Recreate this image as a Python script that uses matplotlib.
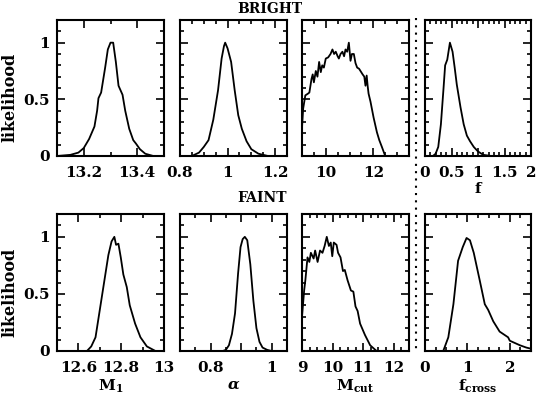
import matplotlib
matplotlib.use("Agg")
import matplotlib.pyplot as plt
from matplotlib.lines import Line2D
from matplotlib.ticker import MultipleLocator, FixedLocator

# ---- data (normalised likelihoods) ----
m1b_x = [13.10, 13.15, 13.18, 13.20, 13.22, 13.24, 13.25, 13.255, 13.265, 13.28, 13.29, 13.30,
         13.31, 13.32, 13.33, 13.345, 13.355, 13.37, 13.385, 13.395, 13.41, 13.43, 13.46, 13.50]
m1b_y = [0.0, 0.01, 0.03, 0.07, 0.15, 0.26, 0.40, 0.51, 0.56, 0.78, 0.94, 1.0,
         1.0, 0.83, 0.62, 0.54, 0.40, 0.24, 0.14, 0.11, 0.06, 0.02, 0.0, 0.0]

alpha_b_x = [0.80, 0.85, 0.88, 0.90, 0.92, 0.94, 0.96, 0.975, 0.985, 0.99, 1.00, 1.015, 1.03,
             1.045, 1.06, 1.08, 1.10, 1.13, 1.17, 1.25]
alpha_b_y = [0.0, 0.0, 0.03, 0.08, 0.14, 0.32, 0.58, 0.86, 0.97, 1.0, 0.95, 0.83, 0.58,
             0.36, 0.24, 0.13, 0.06, 0.02, 0.0, 0.0]

mcut_b_x = [9.0, 9.05, 9.14, 9.25, 9.31, 9.4, 9.45, 9.5, 9.58, 9.65, 9.72, 9.79, 9.85, 9.92,
            10.0, 10.1, 10.2, 10.28, 10.35, 10.42, 10.5, 10.55, 10.62, 10.7, 10.77, 10.83,
            10.9, 10.97, 11.04, 11.1, 11.18, 11.25, 11.32, 11.4, 11.46, 11.55, 11.62, 11.67,
            11.72, 11.76, 11.8, 11.88, 12.01, 12.15, 12.25, 12.36, 12.5]
mcut_b_y = [0.25, 0.42, 0.535, 0.55, 0.56, 0.68, 0.72, 0.65, 0.75, 0.70, 0.83, 0.74, 0.80, 0.78,
            0.86, 0.87, 0.90, 0.94, 0.90, 0.92, 0.88, 0.86, 0.90, 0.92, 0.88, 0.94, 0.92,
            1.0, 0.84, 0.90, 0.90, 0.82, 0.78, 0.77, 0.75, 0.72, 0.70, 0.62, 0.71, 0.62,
            0.55, 0.48, 0.34, 0.21, 0.14, 0.08, 0.0]

f_b_x = [0.0, 0.15, 0.2, 0.25, 0.3, 0.35, 0.38, 0.42, 0.47, 0.52, 0.56, 0.6, 0.67, 0.73, 0.79,
         0.85, 0.92, 1.0, 1.1, 1.25, 2.0]
f_b_y = [0.0, 0.0, 0.02, 0.08, 0.28, 0.6, 0.8, 0.85, 1.0, 0.92, 0.78, 0.63, 0.43, 0.28, 0.18,
         0.13, 0.08, 0.04, 0.01, 0.0, 0.0]

m1f_x = [12.50, 12.60, 12.64, 12.66, 12.68, 12.70, 12.72, 12.74, 12.755, 12.768, 12.776, 12.787,
         12.798, 12.81, 12.826, 12.84, 12.865, 12.89, 12.92, 12.96, 13.0]
m1f_y = [0.0, 0.0, 0.0, 0.04, 0.12, 0.36, 0.6, 0.84, 0.96, 1.0, 0.93, 0.94,
         0.82, 0.67, 0.56, 0.40, 0.24, 0.12, 0.04, 0.0, 0.0]

alpha_f_x = [0.70, 0.84, 0.85, 0.86, 0.87, 0.88, 0.89, 0.898, 0.905, 0.912, 0.92, 0.93, 0.94,
             0.95, 0.96, 0.97, 0.985, 1.0, 1.05]
alpha_f_y = [0.0, 0.0, 0.01, 0.05, 0.15, 0.33, 0.68, 0.91, 0.98, 1.0, 0.97, 0.76, 0.44,
             0.2, 0.08, 0.03, 0.01, 0.0, 0.0]

mcut_f_x = [9.0, 9.07, 9.11, 9.18, 9.24, 9.29, 9.38, 9.43, 9.51, 9.59, 9.67, 9.74, 9.81, 9.88,
            9.94, 9.99, 10.04, 10.13, 10.18, 10.26, 10.34, 10.4, 10.49, 10.6, 10.68, 10.75,
            10.82, 10.9, 11.06, 11.23, 11.44, 12.5]
mcut_f_y = [0.3, 0.53, 0.62, 0.82, 0.78, 0.86, 0.81, 0.88, 0.78, 0.88, 0.86, 0.92, 1.0, 0.92,
            0.95, 0.83, 0.95, 0.93, 0.86, 0.82, 0.70, 0.71, 0.62, 0.53, 0.52, 0.39,
            0.35, 0.24, 0.14, 0.05, 0.0, 0.0]

fc_x = [0.0, 0.43, 0.55, 0.67, 0.78, 0.89, 0.98, 1.06, 1.15, 1.29, 1.41, 1.49, 1.61, 1.76,
        1.96, 2.0, 2.12, 2.24, 2.39, 2.5]
fc_y = [0.0, 0.0, 0.12, 0.41, 0.79, 0.91, 0.99, 0.97, 0.86, 0.62, 0.41, 0.36, 0.26, 0.17,
        0.12, 0.09, 0.07, 0.05, 0.03, 0.02]

# (x, y, xlim, major, minor, ticklabels, xlabel)
panels = [
    [(m1b_x, m1b_y, (13.1, 13.5), [13.2, 13.4], 0.1, ["13.2", "13.4"], None),
     (alpha_b_x, alpha_b_y, (0.8, 1.25), [0.8, 1.0, 1.2], 0.05, ["0.8", "1", "1.2"], None),
     (mcut_b_x, mcut_b_y, (9, 13.5), [10, 12], 0.5, ["10", "12"], None),
     (f_b_x, f_b_y, (0, 2), [0, 0.5, 1, 1.5, 2], 0.1, ["0", "0.5", "1", "1.5", "2"], "f")],
    [(m1f_x, m1f_y, (12.5, 13.0), [12.6, 12.8, 13.0], 0.1, ["12.6", "12.8", "13"], r"$\mathbf{M_1}$"),
     (alpha_f_x, alpha_f_y, (0.7, 1.05), [0.8, 0.9, 1.0], 0.05, ["0.8", "", "1"], r"$\boldsymbol{\alpha}$"),
     (mcut_f_x, mcut_f_y, (9, 12.5), [9, 10, 11, 12], 0.25, ["9", "10", "11", "12"], r"$\mathbf{M_{cut}}$"),
     (fc_x, fc_y, (0, 2.5), [0, 1, 2], 0.25, ["0", "1", "2"], r"$\mathbf{f_{cross}}$")],
]

plt.rcParams['font.family'] = 'DejaVu Serif'
plt.rcParams['font.weight'] = 'bold'
plt.rcParams['mathtext.fontset'] = 'dejavuserif'

W, H = 537, 398
fig = plt.figure(figsize=(W / 100, H / 100), dpi=100)

cols = [(57, 164), (180, 287), (302, 409), (425, 531)]
rows = [(20, 156), (214, 351)]

for r, (top, bot) in enumerate(rows):
    for c, (left, right) in enumerate(cols):
        x, y, xlim, major, minor, labels, xlabel = panels[r][c]
        ax = fig.add_axes([left / W, 1 - bot / H, (right - left) / W, (bot - top) / H])
        ax.plot(x, y, color='black', lw=1.3)
        ax.set_xlim(*xlim)
        ax.set_ylim(0, 1.2)
        ax.xaxis.set_major_locator(FixedLocator(major))
        ax.set_xticklabels(labels)
        ax.xaxis.set_minor_locator(MultipleLocator(minor))
        ax.yaxis.set_major_locator(FixedLocator([0, 0.5, 1]))
        ax.yaxis.set_minor_locator(MultipleLocator(0.1))
        ax.tick_params(which='both', direction='in', top=True, right=True, width=1.2,
                       labelsize=11)
        ax.tick_params(axis='x', pad=7)
        ax.tick_params(axis='y', pad=5)
        ax.tick_params(which='major', length=6)
        ax.tick_params(which='minor', length=3)
        for s in ax.spines.values():
            s.set_linewidth(1.5)
        if c == 0:
            ax.set_yticklabels(["0", "0.5", "1"])
            ax.set_ylabel("likelihood", fontsize=11.5, fontweight='bold')
            ax.yaxis.set_label_coords(-0.36, 0.43)
        else:
            ax.set_yticklabels([])
        if xlabel:
            ax.set_xlabel(xlabel, fontsize=11, fontweight='bold', labelpad=2)

fig.text(237 / W, 1 - 9 / H, "BRIGHT", fontsize=10, fontweight='bold', ha='left', va='center')
fig.text(237 / W, 1 - 198 / H, "FAINT", fontsize=10, fontweight='bold', ha='left', va='center')

fig.add_artist(Line2D([416 / W, 416 / W], [1 - 18 / H, 1 - 351 / H], transform=fig.transFigure,
                      color='black', lw=1.5, linestyle=(0, (1, 2.5))))

fig.savefig("out.png", dpi=100)
